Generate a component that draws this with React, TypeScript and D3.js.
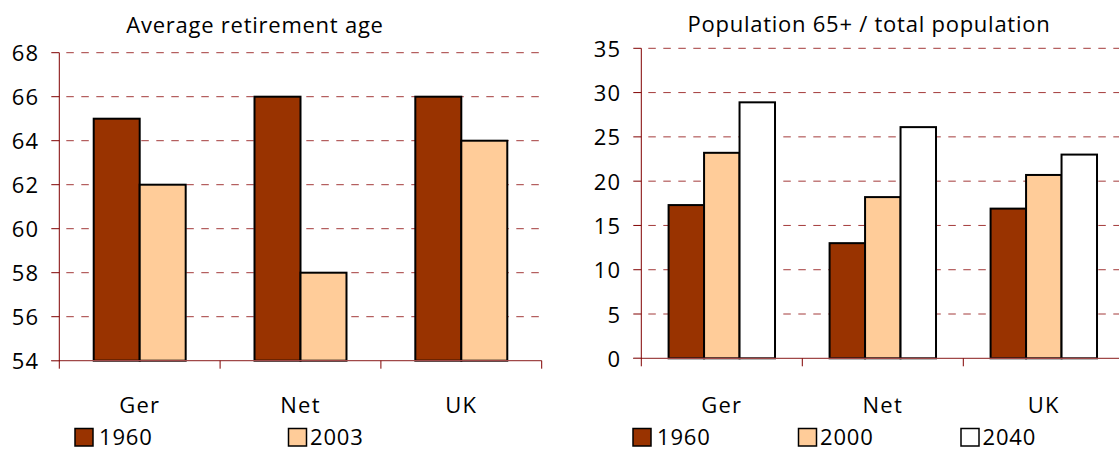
import React, { useEffect, useRef } from 'react';
import * as d3 from 'd3';

// ---------- data ----------
const categories = ['Ger', 'Net', 'UK'];

const retireTitle = 'Average retirement age';
const retireYears = ['1960', '2003'];
const retire1960 = [65, 66, 66];
const retire2003 = [62, 58, 64];
const retireTicks = [54, 56, 58, 60, 62, 64, 66, 68];

const popTitle = 'Population 65+ / total population';
const popYears = ['1960', '2000', '2040'];
const pop1960 = [17.3, 13.0, 16.9];
const pop2000 = [23.2, 18.2, 20.7];
const pop2040 = [28.9, 26.1, 23.0];
const popTicks = [0, 5, 10, 15, 20, 25, 30, 35];

const seriesColors = ['#993300', '#FFCC99', '#FFFFFF'];

const FONT = "'Open Sans', sans-serif";

function drawPanel(svg, cfg) {
  let chart = svg.append('g');

  let x0 = cfg.left, x1 = cfg.right;
  let yTop = cfg.top, yBottom = cfg.bottom;

  // ------- SCALES -----------------
  let p = cfg.padding;
  let xScale = d3.scaleBand()
    .domain(categories)
    .range([x0, x1])
    .paddingInner(p)
    .paddingOuter(p / 2);

  let xSeries = d3.scaleBand()
    .domain(cfg.years)
    .range([0, xScale.bandwidth()])
    .padding(0);

  let yScale = d3.scaleLinear()
    .domain([cfg.ticks[0], cfg.ticks[cfg.ticks.length - 1]])
    .range([yBottom, yTop]);

  let step = xScale.step();

  // ------- GRIDLINES + Y TICKS -----------------
  cfg.ticks.forEach(function (t, i) {
    let y = yScale(t);
    chart.append('line')
      .attr('x1', x0 - 8).attr('x2', x0)
      .attr('y1', y).attr('y2', y)
      .attr('stroke', '#800000').attr('stroke-width', 1);
    if (i > 0) {
      chart.append('line')
        .attr('x1', x0 + 7).attr('x2', x1)
        .attr('y1', y).attr('y2', y)
        .attr('stroke', '#a33a3a').attr('stroke-width', 1)
        .attr('stroke-dasharray', '7.5 7.5');
    }
    chart.append('text')
      .attr('x', x0 - 20)
      .attr('y', y + 8.5)
      .attr('text-anchor', 'end')
      .style('font-family', FONT)
      .style('font-size', '22px')
      .style('letter-spacing', '1.2px')
      .attr('fill', '#000')
      .text(t);
  });

  // ------- BARS -----------------
  let groups = chart.selectAll('g.cat')
    .data(categories)
    .enter()
    .append('g')
    .attr('class', 'cat')
    .attr('transform', function (d) { return 'translate(' + xScale(d) + ',0)'; });

  groups.selectAll('rect')
    .data(function (d, i) {
      return cfg.years.map(function (yr, j) {
        return { year: yr, value: cfg.values[j][i], idx: j };
      });
    })
    .enter()
    .append('rect')
    .attr('x', function (d) { return xSeries(d.year); })
    .attr('y', function (d) { return yScale(d.value); })
    .attr('width', xSeries.bandwidth())
    .attr('height', function (d) { return yBottom - yScale(d.value); })
    .attr('fill', function (d) { return seriesColors[d.idx]; })
    .attr('stroke', '#000')
    .attr('stroke-width', 2);

  // ------- AXES -----------------
  chart.append('line')
    .attr('x1', x0 - 8).attr('x2', x1)
    .attr('y1', yBottom).attr('y2', yBottom)
    .attr('stroke', '#a04848').attr('stroke-width', 1.2);

  chart.append('line')
    .attr('x1', x0).attr('x2', x0)
    .attr('y1', yTop).attr('y2', yBottom + 8)
    .attr('stroke', '#800000').attr('stroke-width', 1);

  for (let i = 1; i <= categories.length; i++) {
    chart.append('line')
      .attr('x1', x0 + i * step).attr('x2', x0 + i * step)
      .attr('y1', yBottom).attr('y2', yBottom + 8)
      .attr('stroke', '#800000').attr('stroke-width', 1);
  }

  // category labels
  chart.selectAll('text.cat')
    .data(categories)
    .enter()
    .append('text')
    .attr('class', 'cat')
    .attr('x', function (d) { return xScale(d) + xScale.bandwidth() / 2; })
    .attr('y', 413)
    .attr('text-anchor', 'middle')
    .style('font-family', FONT)
    .style('font-size', '22px')
    .style('letter-spacing', '1.2px')
    .text(function (d) { return d; });

  // ------- TITLE -----------------
  chart.append('text')
    .attr('x', cfg.titleX)
    .attr('y', cfg.titleY)
    .attr('text-anchor', 'middle')
    .style('font-family', FONT)
    .style('font-size', '22px')
    .style('letter-spacing', '0.75px')
    .text(cfg.title);

  // ------- LEGEND -----------------
  let legend = chart.selectAll('g.legend')
    .data(cfg.years)
    .enter()
    .append('g')
    .attr('class', 'legend')
    .attr('transform', function (d, i) { return 'translate(' + cfg.legendX[i] + ',428.5)'; });

  legend.append('rect')
    .attr('width', 18)
    .attr('height', 17.5)
    .attr('fill', function (d, i) { return seriesColors[i]; })
    .attr('stroke', '#000')
    .attr('stroke-width', 1.5);

  legend.append('text')
    .attr('x', function (d) { return d.charAt(0) === '1' ? 24 : 21.5; })
    .attr('y', 16)
    .style('font-family', FONT)
    .style('font-size', '22px')
    .style('letter-spacing', '0.8px')
    .text(function (d) { return d; });
}

export default function App() {
  const ref = useRef(null);

  useEffect(() => {
    let svg = d3.select(ref.current);
    svg.selectAll('*').remove();

    drawPanel(svg, {
      title: retireTitle, titleX: 255, titleY: 33,
      years: retireYears, values: [retire1960, retire2003], ticks: retireTicks,
      left: 59.3, right: 541.7, top: 52.7, bottom: 360.7, padding: 0.428,
      legendX: [75, 288.5]
    });

    drawPanel(svg, {
      title: popTitle, titleX: 869, titleY: 32,
      years: popYears, values: [pop1960, pop2000, pop2040], ticks: popTicks,
      left: 641.3, right: 1124.3, top: 48.3, bottom: 358.3, padding: 0.339,
      legendX: [633, 798.5, 961]
    });
  }, []);

  return (
    <svg ref={ref} width={1119} height={450}
         style={{ position: 'absolute', left: 0, top: 0, background: '#fff' }} />
  );
}
